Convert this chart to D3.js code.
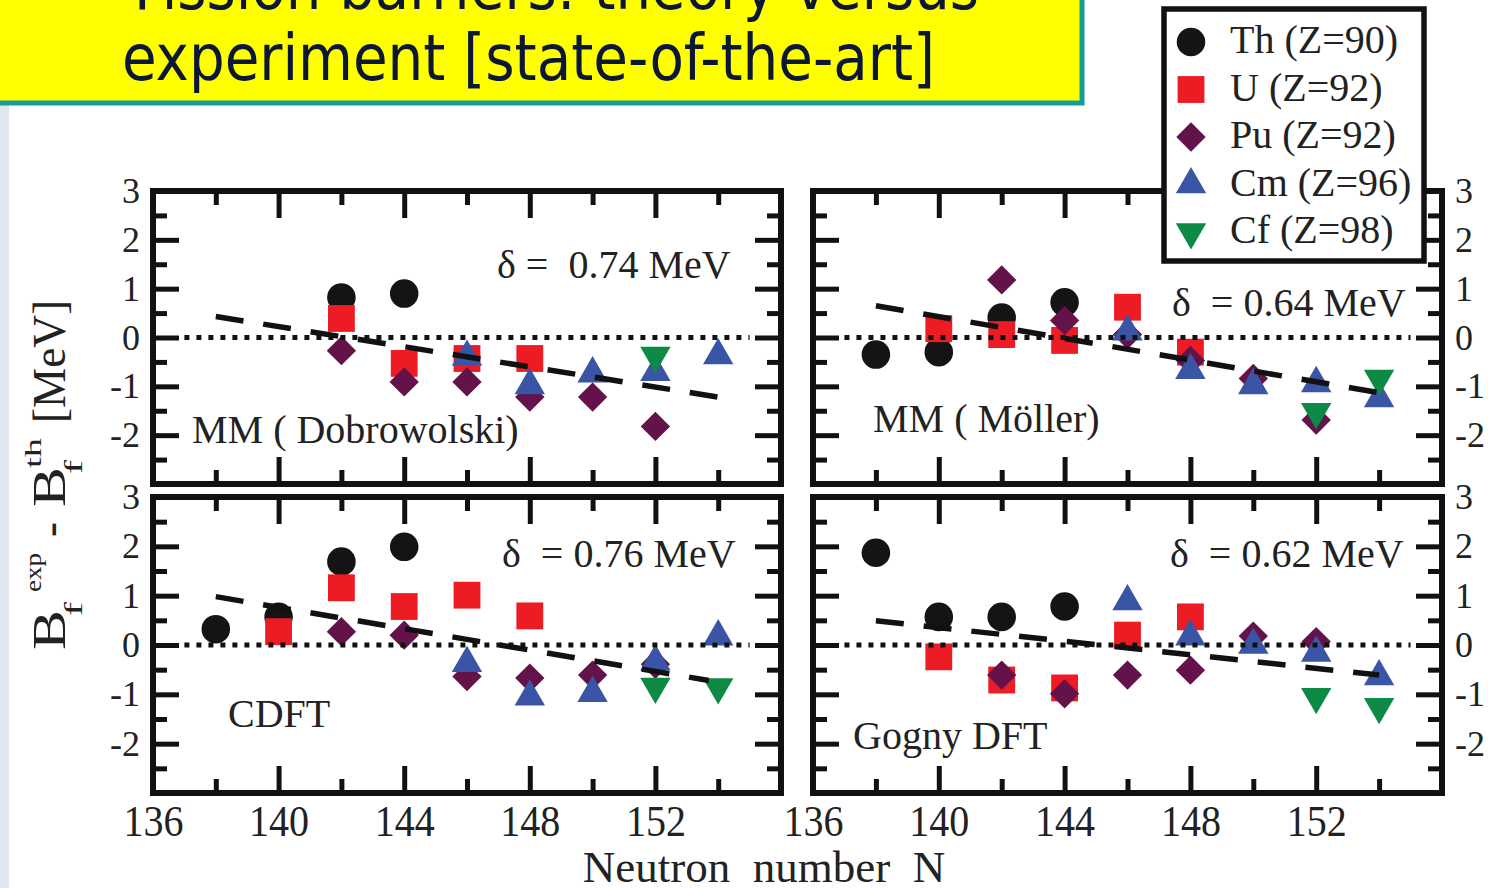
<!DOCTYPE html>
<html>
<head>
<meta charset="utf-8">
<script src="https://cdn.jsdelivr.net/npm/d3@7"></script>
<style>
  body { margin: 0; background: #fff; }
  svg { display: block; font-family: "Liberation Serif", "Times New Roman", serif; }
  text { white-space: pre; }
</style>
</head>
<body>
<svg id="chart" width="1488" height="888"></svg>
<script>
// Axis values
const nMajor = [140, 144, 148, 152];
const nMinor = [138, 142, 146, 150, 154];
const nLabels = [136, 140, 144, 148, 152];
const yMajor = [-2, -1, 0, 1, 2];
const yMinor = [-2.5, -1.5, -0.5, 0.5, 1.5, 2.5];
const yLabels = [-2, -1, 0, 1, 2, 3];

// Legend
const elements = ['Th', 'U', 'Pu', 'Cm', 'Cf'];
const legendLabels = ['Th (Z=90)', 'U (Z=92)', 'Pu (Z=92)', 'Cm (Z=96)', 'Cf (Z=98)'];

// B_f(exp) - B_f(th) [MeV] per model: [element, N, value]
const dobrowolski = [
    ['Th', 142, 0.82], ['Th', 144, 0.90],
    ['U', 142, 0.39], ['U', 144, -0.53], ['U', 146, -0.43], ['U', 148, -0.43],
    ['Pu', 142, -0.27], ['Pu', 144, -0.91], ['Pu', 146, -0.91], ['Pu', 148, -1.22], ['Pu', 150, -1.22], ['Pu', 152, -1.82],
    ['Cm', 146, -0.40], ['Cm', 148, -0.98], ['Cm', 150, -0.74], ['Cm', 152, -0.71], ['Cm', 154, -0.37],
    ['Cf', 152, -0.37]
];
const moller = [
    ['Th', 138, -0.35], ['Th', 140, -0.30], ['Th', 142, 0.41], ['Th', 144, 0.72],
    ['U', 140, 0.18], ['U', 142, 0.06], ['U', 144, -0.06], ['U', 146, 0.62], ['U', 148, -0.30],
    ['Pu', 142, 1.18], ['Pu', 144, 0.35], ['Pu', 146, 0.06], ['Pu', 148, -0.47], ['Pu', 150, -0.84], ['Pu', 152, -1.69],
    ['Cm', 146, 0.12], ['Cm', 148, -0.67], ['Cm', 150, -0.98], ['Cm', 152, -0.94], ['Cm', 154, -1.25],
    ['Cf', 152, -1.52], ['Cf', 154, -0.84]
];
const cdft = [
    ['Th', 138, 0.32], ['Th', 140, 0.57], ['Th', 142, 1.69], ['Th', 144, 1.99],
    ['U', 140, 0.27], ['U', 142, 1.16], ['U', 144, 0.78], ['U', 146, 1.01], ['U', 148, 0.59],
    ['Pu', 142, 0.27], ['Pu', 144, 0.20], ['Pu', 146, -0.64], ['Pu', 148, -0.67], ['Pu', 150, -0.61], ['Pu', 152, -0.39],
    ['Cm', 146, -0.37], ['Cm', 148, -1.05], ['Cm', 150, -0.98], ['Cm', 152, -0.34], ['Cm', 154, 0.17],
    ['Cf', 152, -0.84], ['Cf', 154, -0.85]
];
const gogny = [
    ['Th', 138, 1.87], ['Th', 140, 0.57], ['Th', 142, 0.57], ['Th', 144, 0.78],
    ['U', 140, -0.24], ['U', 142, -0.71], ['U', 144, -0.87], ['U', 146, 0.20], ['U', 148, 0.57],
    ['Pu', 142, -0.61], ['Pu', 144, -0.99], ['Pu', 146, -0.61], ['Pu', 148, -0.51], ['Pu', 150, 0.18], ['Pu', 152, 0.07],
    ['Cm', 146, 0.88], ['Cm', 148, 0.17], ['Cm', 150, 0.00], ['Cm', 152, -0.16], ['Cm', 154, -0.64],
    ['Cf', 152, -1.05], ['Cf', 154, -1.25]
];

// Linear trends (dashed)
const dobrowolskiTrend = [[138, 0.43], [154, -1.22]];
const mollerTrend = [[138, 0.65], [154, -1.13]];
const cdftTrend = [[138, 0.98], [153.7, -0.72]];
const gognyTrend = [[138, 0.49], [154, -0.61]];

const modelNames = ['MM ( Dobrowolski)', 'MM ( M\u00f6ller)', 'CDFT', 'Gogny DFT'];
const deltas = ['\u03b4 =  0.74 MeV', '\u03b4  = 0.64 MeV', '\u03b4  = 0.76 MeV', '\u03b4  = 0.62 MeV'];

// Styles
const colors = { Th: '#141414', U: '#ed1c24', Pu: '#63124a', Cm: '#3a55a5', Cf: '#0d8a45' };
const diamond = { draw: (ctx, size) => { const r = Math.sqrt(size / 2); ctx.moveTo(0, -r); ctx.lineTo(r, 0); ctx.lineTo(0, r); ctx.lineTo(-r, 0); ctx.closePath(); } };
const triDown = { draw: (ctx, size) => { const y = Math.sqrt(size / (Math.sqrt(3) * 3)); ctx.moveTo(0, 2 * y); ctx.lineTo(-Math.sqrt(3) * y, -y); ctx.lineTo(Math.sqrt(3) * y, -y); ctx.closePath(); } };
const shapes = { Th: [d3.symbolCircle, 640], U: [d3.symbolSquare, 720], Pu: [diamond, 430], Cm: [d3.symbolTriangle, 400], Cf: [triDown, 400] };
const symbolPath = el => d3.symbol().type(shapes[el][0]).size(shapes[el][1])();

// Layout
const panels = [
    { data: dobrowolski, trend: dobrowolskiTrend, left: 153, right: 781, top: 191, bottom: 484, labels: 'left',
      delta: [497, 278], model: [192, 443] },
    { data: moller, trend: mollerTrend, left: 813, right: 1442, top: 191, bottom: 484, labels: 'right',
      delta: [1172, 316], model: [873, 432] },
    { data: cdft, trend: cdftTrend, left: 153, right: 781, top: 497, bottom: 793, labels: 'left',
      delta: [502, 567], model: [228, 727] },
    { data: gogny, trend: gognyTrend, left: 813, right: 1442, top: 497, bottom: 793, labels: 'right',
      delta: [1170, 567], model: [853, 749] }
];

const svg = d3.select('#chart');

// slide background strip on the left
svg.append('rect').attr('x', 0).attr('y', 100).attr('width', 9).attr('height', 788).attr('fill', '#dfe7f1');

const ink = '#111';
const cleanTicks = (sel, w) => {
    sel.select('.domain').remove();
    sel.selectAll('text').remove();
    sel.selectAll('line').attr('stroke', ink).attr('stroke-width', w);
};

panels.forEach((p, i) => {
    const x = d3.scaleLinear().domain([136, 156]).range([p.left, p.right]);
    const y = d3.scaleLinear().domain([-3, 3]).range([p.bottom, p.top]);
    const g = svg.append('g');

    // markers
    g.selectAll('path.mark')
        .data(p.data)
        .join('path')
        .attr('class', 'mark')
        .attr('d', d => symbolPath(d[0]))
        .attr('fill', d => colors[d[0]])
        .attr('transform', d => `translate(${x(d[1])},${y(d[2])})`);

    // zero line (dotted)
    g.append('line')
        .attr('x1', x(137)).attr('x2', x(155))
        .attr('y1', y(0)).attr('y2', y(0))
        .attr('stroke', ink).attr('stroke-width', 5).attr('stroke-dasharray', '5,7');

    // trend (dashed)
    g.append('path')
        .attr('d', d3.line().x(d => x(d[0])).y(d => y(d[1]))(p.trend))
        .attr('fill', 'none')
        .attr('stroke', ink).attr('stroke-width', 5.5).attr('stroke-dasharray', '28,20');

    // ticks on all four sides, pointing inward
    [[d3.axisTop, p.top], [d3.axisBottom, p.bottom]].forEach(([ax, pos]) => {
        g.append('g').attr('transform', `translate(0,${pos})`)
            .call(ax(x).tickValues(nMajor).tickSize(-27)).call(cleanTicks, 5);
        g.append('g').attr('transform', `translate(0,${pos})`)
            .call(ax(x).tickValues(nMinor).tickSize(-14)).call(cleanTicks, 5);
    });
    [[d3.axisLeft, p.left], [d3.axisRight, p.right]].forEach(([ax, pos]) => {
        g.append('g').attr('transform', `translate(${pos},0)`)
            .call(ax(y).tickValues(yMajor).tickSize(-26)).call(cleanTicks, 5);
        g.append('g').attr('transform', `translate(${pos},0)`)
            .call(ax(y).tickValues(yMinor).tickSize(-14)).call(cleanTicks, 5);
    });

    // frame
    g.append('rect')
        .attr('x', p.left).attr('y', p.top)
        .attr('width', p.right - p.left).attr('height', p.bottom - p.top)
        .attr('fill', 'none').attr('stroke', ink).attr('stroke-width', 6);

    // y tick labels
    const yAxis = p.labels === 'left' ? d3.axisLeft(y) : d3.axisRight(y);
    const ya = g.append('g')
        .attr('transform', `translate(${p.labels === 'left' ? p.left : p.right},0)`)
        .call(yAxis.tickValues(yLabels).tickFormat(d => String(d)).tickSize(0).tickPadding(13));
    ya.select('.domain').remove();
    ya.selectAll('text').attr('font-family', '"Liberation Serif", serif').attr('font-size', 36).attr('fill', '#222');

    // x tick labels under bottom panels
    if (p.bottom > 700) {
        const xa = g.append('g')
            .attr('transform', `translate(0,${p.bottom})`)
            .call(d3.axisBottom(x).tickValues(nLabels).tickFormat(d => String(d)).tickSize(0).tickPadding(12));
        xa.select('.domain').remove();
        xa.selectAll('text')
            .attr('font-family', '"Liberation Serif", serif').attr('font-size', 44).attr('fill', '#222')
            .attr('textLength', 60).attr('lengthAdjust', 'spacingAndGlyphs');
    }

    // panel annotations
    g.append('text').attr('x', p.delta[0]).attr('y', p.delta[1])
        .attr('font-size', 40).attr('fill', '#222').text(deltas[i]);
    g.append('text').attr('x', p.model[0]).attr('y', p.model[1])
        .attr('font-size', 40).attr('fill', '#222').text(modelNames[i]);
});

// axis titles
svg.append('text')
    .attr('x', 764).attr('y', 882)
    .attr('text-anchor', 'middle')
    .attr('font-size', 45).attr('fill', '#222')
    .text('Neutron  number  N');

// y title, rotated; pieces placed along the text direction
const yTitleParts = [
    { t: 'B', x: 0, y: 0, fs: 46, len: 40 },
    { t: 'f', x: 34, y: 17, fs: 26, len: 14 },
    { t: 'exp', x: 58, y: -24, fs: 24, len: 39 },
    { t: '-', x: 113, y: 0, fs: 46, len: 15 },
    { t: 'B', x: 143, y: 0, fs: 46, len: 40 },
    { t: 'f', x: 176, y: 17, fs: 26, len: 14 },
    { t: 'th', x: 182, y: -24, fs: 24, len: 30 },
    { t: '[MeV]', x: 227, y: 0, fs: 46, len: 123 }
];
svg.append('g')
    .attr('transform', 'translate(65,650) rotate(-90)')
    .selectAll('text')
    .data(yTitleParts)
    .join('text')
    .attr('x', d => d.x).attr('y', d => d.y)
    .attr('font-size', d => d.fs).attr('fill', '#222')
    .attr('textLength', d => d.len).attr('lengthAdjust', 'spacingAndGlyphs')
    .text(d => d.t);

// legend
const legend = svg.append('g');
legend.append('rect')
    .attr('x', 1164).attr('y', 9).attr('width', 260).attr('height', 252)
    .attr('fill', '#fff').attr('stroke', ink).attr('stroke-width', 5.5);
const rowY = d3.scalePoint().domain(elements).range([42, 232]);
legend.selectAll('path')
    .data(elements)
    .join('path')
    .attr('d', d => symbolPath(d))
    .attr('fill', d => colors[d])
    .attr('transform', d => `translate(1191,${rowY(d)})`);
legend.selectAll('text')
    .data(elements)
    .join('text')
    .attr('x', 1230).attr('y', d => rowY(d) + 11)
    .attr('font-size', 40).attr('fill', '#222')
    .text((d, i) => legendLabels[i]);

// slide title box
const title = svg.append('g');
title.append('rect')
    .attr('x', -10).attr('y', -10).attr('width', 1092).attr('height', 113)
    .attr('fill', '#ffff00').attr('stroke', '#169c9a').attr('stroke-width', 5);
title.append('text')
    .attr('x', 134).attr('y', 9)
    .attr('font-family', '"DejaVu Sans Condensed", "DejaVu Sans", sans-serif')
    .attr('font-size', 64).attr('fill', '#0b1733')
    .attr('textLength', 845).attr('lengthAdjust', 'spacingAndGlyphs')
    .text('Fission barriers: theory versus');
title.append('text')
    .attr('x', 122).attr('y', 80)
    .attr('font-family', '"DejaVu Sans Condensed", "DejaVu Sans", sans-serif')
    .attr('font-size', 64).attr('fill', '#0b1733')
    .attr('textLength', 813).attr('lengthAdjust', 'spacingAndGlyphs')
    .text('experiment [state-of-the-art]');
</script>
</body>
</html>
